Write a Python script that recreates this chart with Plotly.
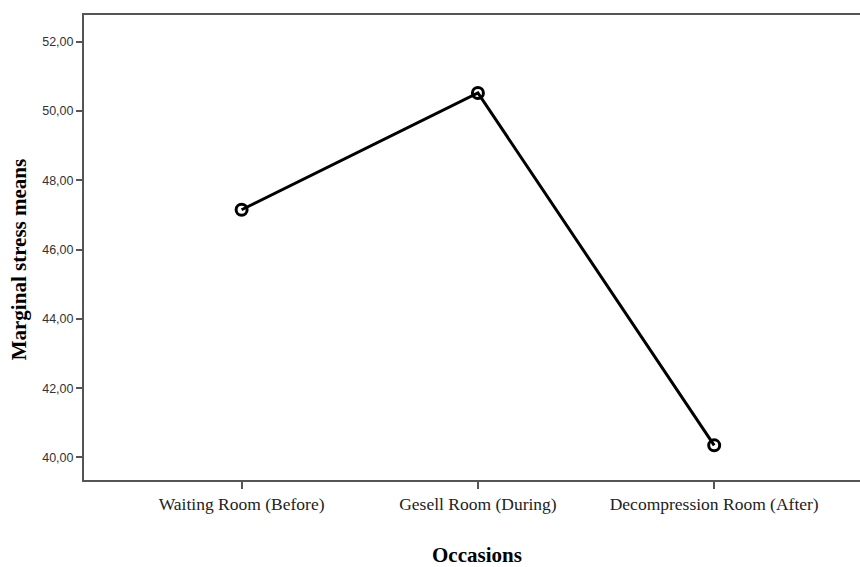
import plotly.graph_objects as go

occasions = ["Waiting Room (Before)", "Gesell Room (During)", "Decompression Room (After)"]
stress_means = [47.15, 50.52, 40.35]
y_ticks = [40, 42, 44, 46, 48, 50, 52]

W, H = 860, 567
L, R, T, B = 83.5, 0, 15, 86.5

fig = go.Figure()
fig.add_trace(go.Scatter(
    x=[0, 1, 2], y=stress_means, mode="lines+markers",
    line=dict(color="black", width=3),
    marker=dict(symbol="circle-open", size=11, color="black", line=dict(width=3)),
    showlegend=False, hoverinfo="skip",
))

fig.update_layout(
    width=W, height=H,
    margin=dict(l=L, r=R, t=T, b=B, pad=0),
    paper_bgcolor="white", plot_bgcolor="white",
    separators=", ",
    xaxis=dict(
        range=[-0.667, 2.617], tickvals=[0, 1, 2], ticktext=occasions,
        showline=True, linecolor="#555555", linewidth=2, mirror=True,
        ticks="outside", ticklen=7, tickcolor="#555555", tickwidth=1.5,
        showgrid=False, zeroline=False,
        tickfont=dict(family="Liberation Serif, Times New Roman, serif", size=17.5, color="#222222"),
    ),
    yaxis=dict(
        range=[39.35, 52.77], tickvals=y_ticks, tickformat=".2f",
        showline=True, linecolor="#555555", linewidth=2, mirror=False,
        ticks="outside", ticklen=6, tickcolor="#555555", tickwidth=1.5,
        showgrid=False, zeroline=False,
        tickfont=dict(family="Arial, Liberation Sans, sans-serif", size=12.5, color="#333333"),
    ),
    annotations=[
        dict(text="<b>Occasions</b>", xref="paper", yref="paper",
             x=(477 - L) / (W - L - R), y=-(556 - (H - B)) / (H - B - T),
             xanchor="center", yanchor="middle", showarrow=False,
             font=dict(family="Liberation Serif, Times New Roman, serif", size=21, color="black")),
        dict(text="<b>Marginal stress means</b>", xref="paper", yref="paper",
             x=-(L - 18) / (W - L - R), y=1 - (260 - T) / (H - B - T),
             xanchor="center", yanchor="middle", showarrow=False, textangle=-90,
             font=dict(family="Liberation Serif, Times New Roman, serif", size=21, color="black")),
    ],
)

fig.write_html("out.html", config={"displayModeBar": False},
               post_script="document.body.style.margin='0';")
